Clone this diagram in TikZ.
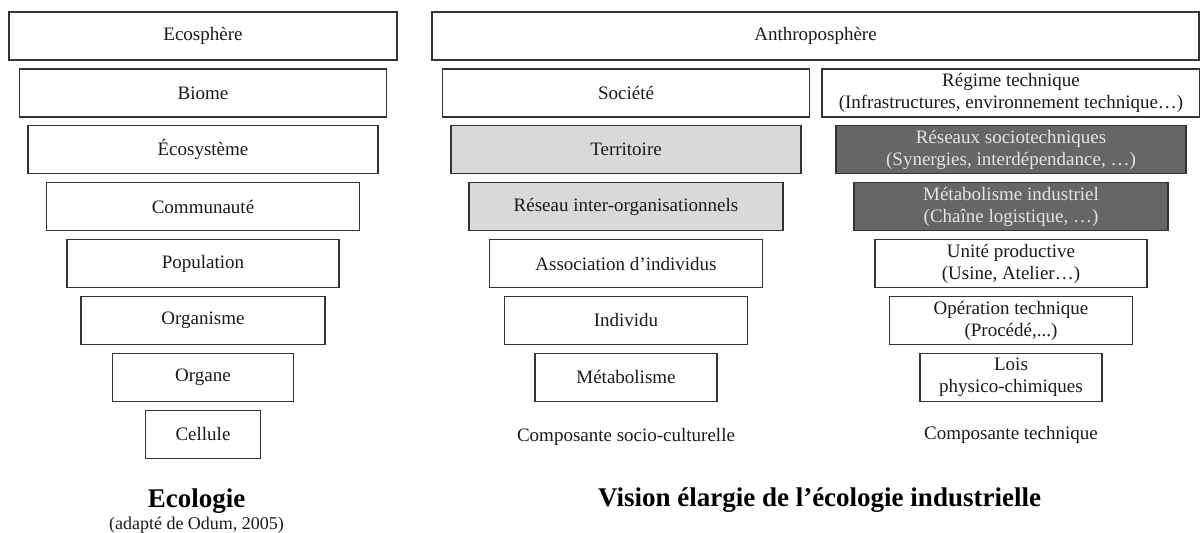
\documentclass[tikz,border=0pt]{standalone}
\usepackage{fontspec}
\setmainfont{Liberation Serif}
\usepackage{tikz}
\usetikzlibrary{positioning}
\definecolor{odumLine}{HTML}{333333}
\definecolor{odumText}{HTML}{1A1A1A}
\definecolor{odumPale}{HTML}{D9D9D9}
\definecolor{odumDark}{HTML}{666666}
\definecolor{odumLight}{HTML}{E4E4E4}

\begin{document}
\begin{tikzpicture}[x=0.5pt,y=-0.5pt,font=\fontsize{9.5}{11}\selectfont,
    box/.style={draw=odumLine,line width=0.65pt,fill=white,text=odumText,
                minimum height=24pt,inner xsep=2pt,inner ysep=0pt,
                outer sep=0pt,align=center},
    pale/.style={box,fill=odumPale},
    dark/.style={box,fill=odumDark,text=odumLight},
    caption/.style={anchor=base,text=odumText},
    heading/.style={anchor=base,text=black,font=\fontsize{13.5}{15}\bfseries\selectfont}]
  \useasboundingbox (0,0) rectangle (1200,533);
  \node[box,minimum width=194pt] (eco) at (203,36) {Ecosphère};
  \node[box,minimum width=183.5pt,below=4.45pt of eco] (biome) {Biome};
  \node[box,minimum width=175pt,below=4.45pt of biome] (ecosys) {Écosystème};
  \node[box,minimum width=156.5pt,below=4.45pt of ecosys] (commu) {Communauté};
  \node[box,minimum width=136pt,below=4.45pt of commu] (popu) {Population};
  \node[box,minimum width=122pt,below=4.45pt of popu] (orgm) {Organisme};
  \node[box,minimum width=90.5pt,below=4.45pt of orgm] (organe) {Organe};
  \node[box,minimum width=57.5pt,below=4.45pt of organe] (cell) {Cellule};
  \node[heading] (ecoTitle) at (196.5,508) {Ecologie};
  \node[caption,font=\fontsize{9}{10}\selectfont] (odum) at (196.5,529.5) {(adapté de Odum, 2005)};

  \node[box,minimum width=383.5pt] (anthro) at (815.5,36) {Anthroposphère};
  \path (biome) ++(423,0) node[box,minimum width=183.5pt] (soc) {Société};
  \node[pale,minimum width=175pt,below=4.45pt of soc] (terri) {Territoire};
  \node[pale,minimum width=157pt,below=4.45pt of terri] (reseau) {Réseau inter-organisationnels};
  \node[box,minimum width=136.5pt,below=4.45pt of reseau] (assoc) {Association d’individus};
  \node[box,minimum width=121.5pt,below=4.45pt of assoc] (indiv) {Individu};
  \node[box,minimum width=91pt,below=4.45pt of indiv] (metab) {Métabolisme};
  \node[caption] (socCap) at (626,442) {Composante socio-culturelle};

  \path (soc) ++(385,0) node[box,minimum width=189pt] (regime)
    {Régime technique\\(Infrastructures, environnement technique…)};
  \node[dark,minimum width=175pt,below=4.45pt of regime] (sociotech)
    {Réseaux sociotechniques\\(Synergies, interdépendance, …)};
  \node[dark,minimum width=157pt,below=4.45pt of sociotech] (metind)
    {Métabolisme industriel\\(Chaîne logistique, …)};
  \node[box,minimum width=136pt,below=4.45pt of metind] (unite)
    {Unité productive\\(Usine, Atelier…)};
  \node[box,minimum width=121.5pt,below=4.45pt of unite] (operation)
    {Opération technique\\(Procédé,...)};
  \node[box,minimum width=91pt,below=4.45pt of operation] (lois)
    {Lois\\physico-chimiques};
  \node[caption] (techCap) at (1011,439.5) {Composante technique};
  \node[heading] (visTitle) at (819.5,507) {Vision élargie de l’écologie industrielle};
\end{tikzpicture}
\end{document}
